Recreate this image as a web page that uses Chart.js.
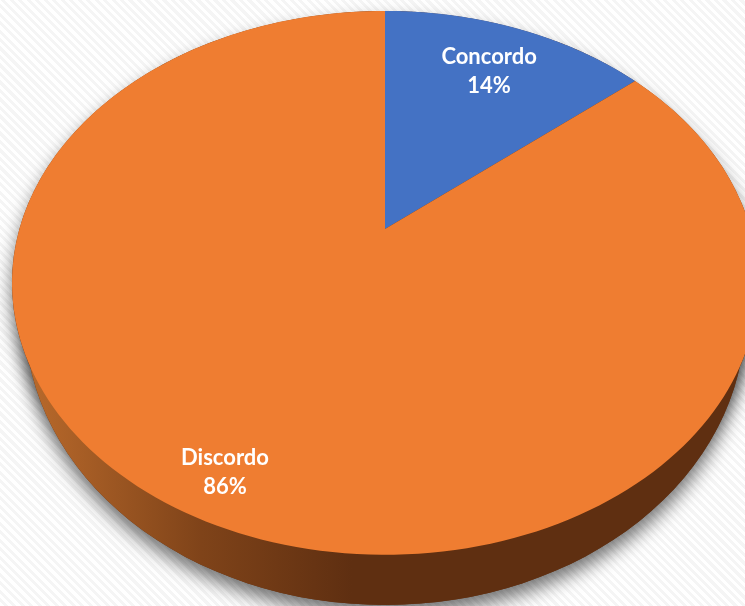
<!DOCTYPE html>
<html>
<head>
<meta charset="utf-8">
<title>Concordo / Discordo</title>
<style>
    html, body { margin: 0; padding: 0; width: 745px; height: 606px; overflow: hidden; }
    body { background: repeating-linear-gradient(45deg, #ffffff 0 3px, #f5f5f5 3px 6px); }
    canvas { display: block; }
</style>
<script src="https://cdn.jsdelivr.net/npm/chart.js@4"></script>
</head>
<body>
<canvas id="pie-chart" width="745" height="606"></canvas>
<script>
// Chart data
const categories = ['Concordo', 'Discordo'];
const percentages = [14, 86];
const sliceColors = ['#4472C4', '#EF7D31'];

// Label distance from the pie centre, as a share of the radius
const labelRadius = [0.76, 0.868];

// Tilted disc: unit circle to screen with a perspective divide
const disc = { x: 385, y: 229, a: 365.6, b: 261.3, k: 0.198 };

function project(angle, r) {
    const u = r * Math.cos(angle);
    const v = r * Math.sin(angle);
    const w = 1 - disc.k * v;
    return { x: disc.x + disc.a * u / w, y: disc.y + disc.b * v / w };
}

function slicePath(ctx, start, end) {
    const steps = 200;
    ctx.beginPath();
    ctx.moveTo(disc.x, disc.y);
    for (let i = 0; i <= steps; i++) {
        const p = project(start + (end - start) * i / steps, 1);
        ctx.lineTo(p.x, p.y);
    }
    ctx.closePath();
}

// Draws the arcs chart.js laid out, as a 3D pie
const tiltedPie = {
    id: 'tiltedPie',
    beforeDatasetsDraw(chart) {
        const ctx = chart.ctx;
        const arcs = chart.getDatasetMeta(0).data;

        // Shadow under the whole shape
        ctx.save();
        ctx.shadowColor = 'rgba(0, 0, 0, 0.55)';
        ctx.shadowBlur = 18;
        ctx.shadowOffsetY = 10;
        ctx.fillStyle = '#5F2F11';
        ctx.beginPath();
        ctx.ellipse(385, 283, 373, 272, 0, 0, Math.PI * 2);
        ctx.fill();
        ctx.beginPath();
        ctx.ellipse(385, 318, 360, 287, 0, 0, Math.PI * 2);
        ctx.fill();
        ctx.restore();

        // Side wall
        const wall = ctx.createLinearGradient(30, 0, 745, 0);
        wall.addColorStop(0, '#B8692B');
        wall.addColorStop(0.24, '#7F4319');
        wall.addColorStop(0.45, '#5F2F11');
        wall.addColorStop(1, '#5F2F11');
        ctx.fillStyle = wall;
        ctx.beginPath();
        ctx.ellipse(385, 318, 360, 287, 0, 0, Math.PI * 2);
        ctx.fill();

        // Top face
        arcs.forEach((arc, i) => {
            const props = arc.getProps(['startAngle', 'endAngle'], true);
            slicePath(ctx, props.startAngle, props.endAngle);
            ctx.fillStyle = arc.options.backgroundColor;
            ctx.fill();
        });
        return false;
    },
    afterDraw(chart) {
        const ctx = chart.ctx;
        const arcs = chart.getDatasetMeta(0).data;
        ctx.save();
        ctx.fillStyle = '#FFFFFF';
        ctx.font = 'bold 22px Lato';
        ctx.textAlign = 'center';
        ctx.textBaseline = 'middle';
        arcs.forEach((arc, i) => {
            const props = arc.getProps(['startAngle', 'endAngle'], true);
            const p = project((props.startAngle + props.endAngle) / 2, labelRadius[i]);
            ctx.fillText(categories[i], p.x, p.y - 14);
            ctx.fillText(percentages[i] + '%', p.x, p.y + 15);
        });
        ctx.restore();
    }
};

new Chart(document.getElementById('pie-chart'), {
    type: 'pie',
    data: {
        labels: categories,
        datasets: [{
            data: percentages,
            backgroundColor: sliceColors,
            borderWidth: 0
        }]
    },
    options: {
        responsive: false,
        animation: false,
        plugins: {
            legend: { display: false },
            tooltip: { enabled: false }
        }
    },
    plugins: [tiltedPie]
});
</script>
</body>
</html>
